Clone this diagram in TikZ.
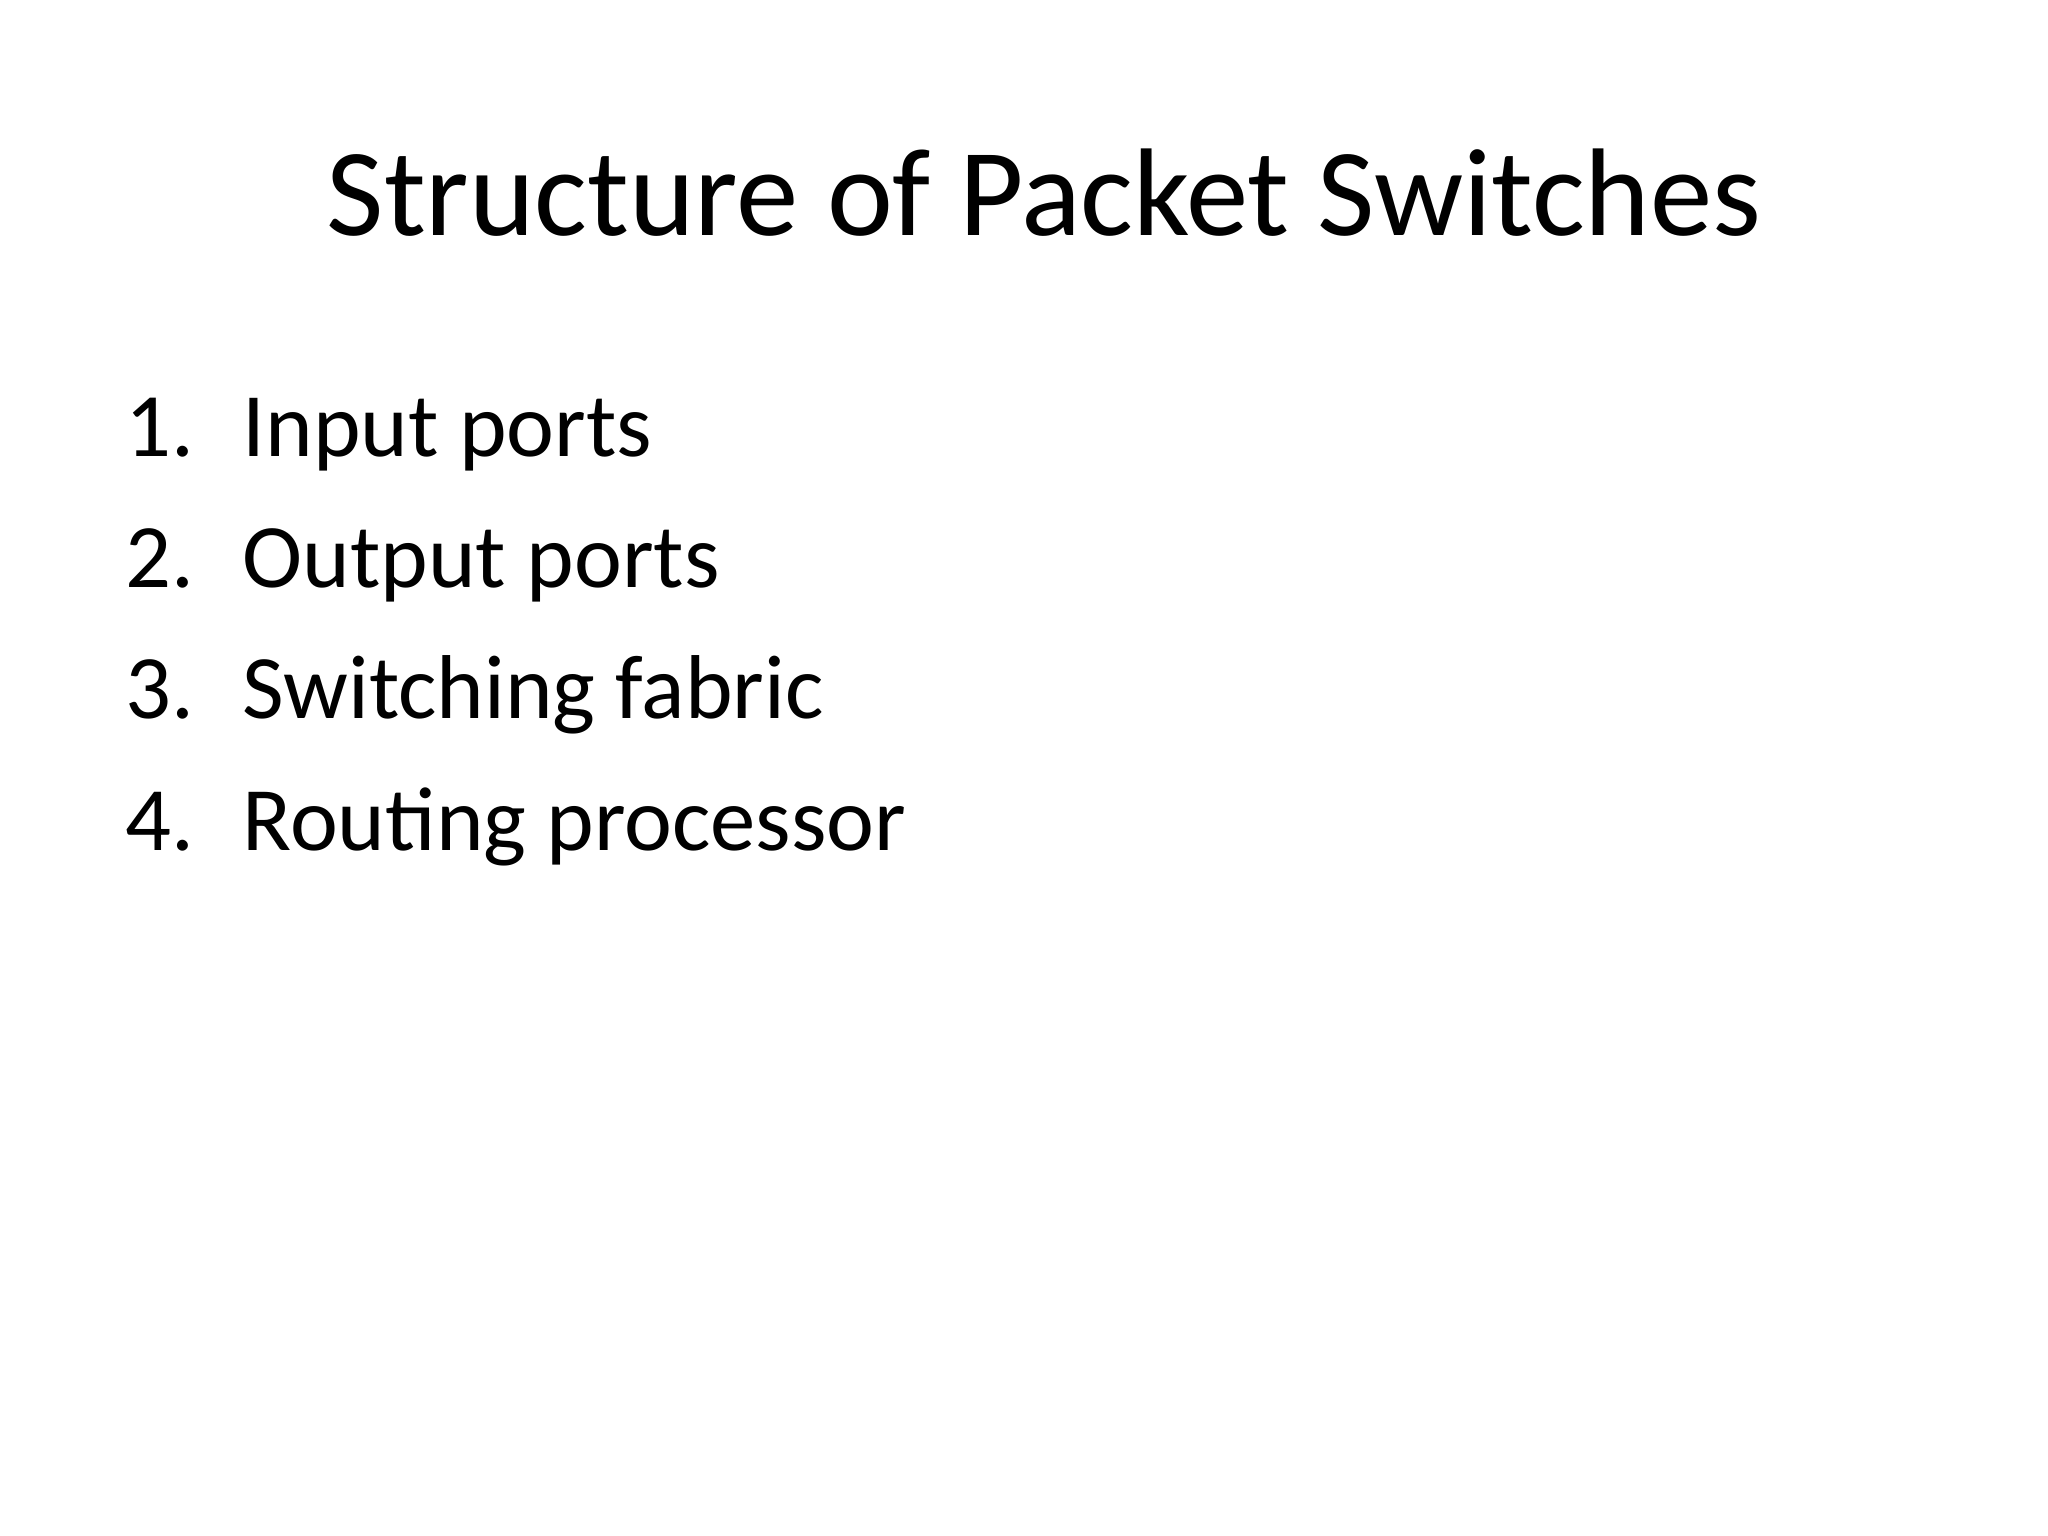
\documentclass[tikz,border=0pt]{standalone}
\usepackage{fontspec}
\setmainfont{Carlito}
\begin{document}
\begin{tikzpicture}[x=1cm,y=1cm,
  titletext/.style={inner sep=0pt,anchor=base,font=\fontsize{35.5}{40}\selectfont},
  itemtext/.style={inner sep=0pt,anchor=base west,font=\fontsize{25.8}{30}\selectfont}]
\useasboundingbox[fill=white] (0,0) rectangle (20.48,15.36);
\node[titletext] (title) at (10.44,13.0) {Structure of Packet Switches};
\node[itemtext] (n1) at (1.25,10.79) {1.};
\node[itemtext] (t1) at (2.42,10.79) {Input ports};
\node[itemtext] (n2) at (1.25,9.48) {2.};
\node[itemtext] (t2) at (2.42,9.48) {Output ports};
\node[itemtext] (n3) at (1.25,8.17) {3.};
\node[itemtext] (t3) at (2.42,8.17) {Switching fabric};
\node[itemtext] (n4) at (1.25,6.85) {4.};
\node[itemtext] (t4) at (2.42,6.85) {Routing processor};
\end{tikzpicture}
\end{document}
